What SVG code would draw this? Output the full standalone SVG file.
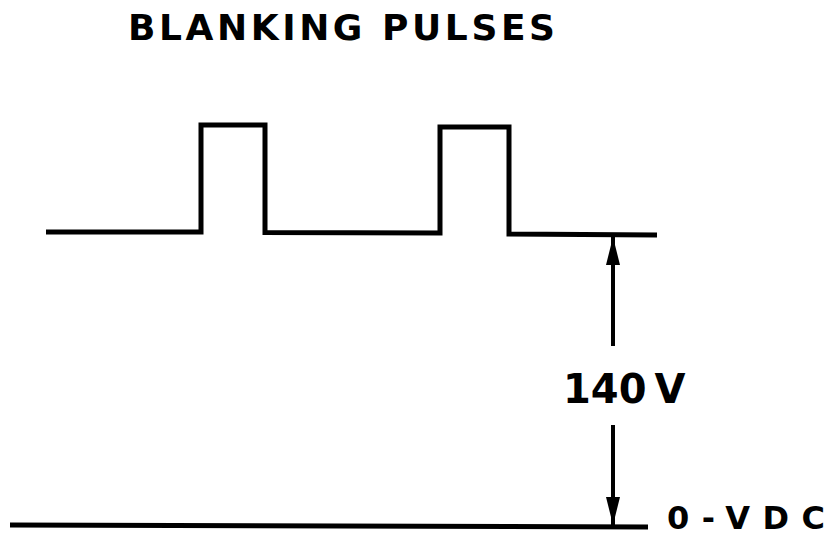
<svg xmlns="http://www.w3.org/2000/svg" width="835" height="538" viewBox="0 0 835 538">
  <style>
    .ln { fill: none; stroke: #000; stroke-width: 5; stroke-linejoin: miter; stroke-linecap: butt; }
    .dim { fill: none; stroke: #000; stroke-width: 4; }
    .lbl { font-family: "DejaVu Sans", "Liberation Sans", sans-serif; font-weight: bold; fill: #000; }
  </style>
  <defs>
    <marker id="ah" viewBox="0 0 28 16" refX="28" refY="8" markerWidth="28" markerHeight="16" markerUnits="userSpaceOnUse" orient="auto">
      <path d="M0,1 L28,8 L0,15 z" fill="#000"/>
    </marker>
  </defs>
  <rect width="835" height="538" fill="#fff"/>

  <g id="title">
    <text class="lbl" x="128" y="40" font-size="36" textLength="427" lengthAdjust="spacing">BLANKING PULSES</text>
  </g>

  <g id="waveform">
    <path class="ln" d="M46,232 L201,232 L201,125 L265,125 L265,232.5 L440,233 L440,127 L509,127 L509,234 L657,235"/>
  </g>

  <g id="zero-line">
    <path class="ln" d="M10,525 L648,527"/>
  </g>

  <g id="connectors">
    <path class="dim" d="M613,346 L613,237" marker-end="url(#ah)"/>
    <path class="dim" d="M613,425 L613,525" marker-end="url(#ah)"/>
  </g>

  <g id="label-140v">
    <text class="lbl" x="563" y="403" font-size="40">140<tspan dx="8">V</tspan></text>
  </g>

  <g id="label-0vdc">
    <text class="lbl" x="667" y="529" font-size="32" textLength="158" lengthAdjust="spacing">0-VDC</text>
  </g>
</svg>
